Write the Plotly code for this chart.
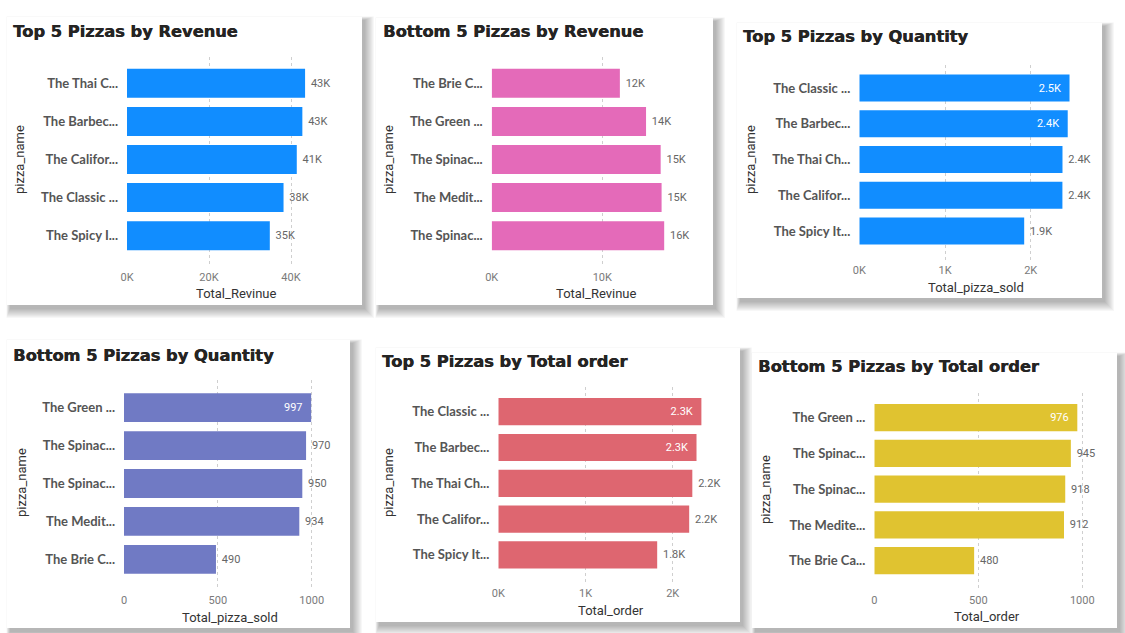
import plotly.graph_objects as go

W, H = 1125, 633

# ---------------- data ----------------
top_rev_names = ["The Thai Chicken Pizza", "The Barbecue Chicken Pizza", "The California Chicken Pizza",
                 "The Classic Deluxe Pizza", "The Spicy Italian Pizza"]
top_rev_labels = ["The Thai C...", "The Barbec...", "The Califor...", "The Classic ...", "The Spicy I..."]
top_rev_values = [43434, 42768, 41410, 38180, 34831]

bot_rev_names = ["The Brie Carre Pizza", "The Green Garden Pizza", "The Spinach Supreme Pizza",
                 "The Mediterranean Pizza", "The Spinach Pesto Pizza"]
bot_rev_labels = ["The Brie C...", "The Green ...", "The Spinac...", "The Medit...", "The Spinac..."]
bot_rev_values = [11589, 13956, 15278, 15361, 15596]

top_qty_names = ["The Classic Deluxe Pizza", "The Barbecue Chicken Pizza", "The Thai Chicken Pizza",
                 "The California Chicken Pizza", "The Spicy Italian Pizza"]
top_qty_labels = ["The Classic ...", "The Barbec...", "The Thai Ch...", "The Califor...", "The Spicy It..."]
top_qty_values = [2453, 2432, 2371, 2370, 1924]

bot_qty_names = ["The Green Garden Pizza", "The Spinach Pesto Pizza", "The Spinach Supreme Pizza",
                 "The Mediterranean Pizza", "The Brie Carre Pizza"]
bot_qty_labels = ["The Green ...", "The Spinac...", "The Spinac...", "The Medit...", "The Brie C..."]
bot_qty_values = [997, 970, 950, 934, 490]

top_ord_names = ["The Classic Deluxe Pizza", "The Barbecue Chicken Pizza", "The Thai Chicken Pizza",
                 "The California Chicken Pizza", "The Spicy Italian Pizza"]
top_ord_labels = ["The Classic ...", "The Barbec...", "The Thai Ch...", "The Califor...", "The Spicy It..."]
top_ord_values = [2329, 2273, 2225, 2189, 1822]

bot_ord_names = ["The Green Garden Pizza", "The Spinach Pesto Pizza", "The Spinach Supreme Pizza",
                 "The Mediterranean Pizza", "The Brie Carre Pizza"]
bot_ord_labels = ["The Green ...", "The Spinac...", "The Spinac...", "The Medite...", "The Brie Ca..."]
bot_ord_values = [976, 945, 918, 912, 480]

rev_ticks = [0, 20000, 40000]
rev_ticktext = ["0K", "20K", "40K"]
rev2_ticks = [0, 10000]
rev2_ticktext = ["0K", "10K"]
k_ticks = [0, 1000, 2000]
k_ticktext = ["0K", "1K", "2K"]
n_ticks = [0, 500, 1000]
n_ticktext = ["0", "500", "1000"]


def fmt_k0(v):
    return f"{v / 1000:.0f}K"


def fmt_k1(v):
    return f"{v / 1000:.1f}K"


def fmt_n(v):
    return f"{v:.0f}"


# ---------------- layout / style per panel (pixel geometry) ----------------
panels = [
    dict(title="Top 5 Pizzas by Revenue", names=top_rev_names, labels=top_rev_labels, values=top_rev_values,
         fmt=fmt_k0, tickvals=rev_ticks, ticktext=rev_ticktext, xtitle="Total_Revinue", color="#118DFF",
         inside=0, card=(7, 17, 362, 305), tpos=(12, 31.5), x0=127, ppu=82 / 20000, x1=332,
         c0=83.3, s=38.1, py=(57, 267), xt=(236.7, 293), yt=(19, 160)),
    dict(title="Bottom 5 Pizzas by Revenue", names=bot_rev_names, labels=bot_rev_labels, values=bot_rev_values,
         fmt=fmt_k0, tickvals=rev2_ticks, ticktext=rev2_ticktext, xtitle="Total_Revinue", color="#E46AB9",
         inside=0, card=(376, 18, 713, 305), tpos=(381.5, 31.5), x0=491.7, ppu=110.6 / 10000, x1=690,
         c0=83.3, s=38.1, py=(57, 267), xt=(596, 293), yt=(388, 160)),
    dict(title="Top 5 Pizzas by Quantity", names=top_qty_names, labels=top_qty_labels, values=top_qty_values,
         fmt=fmt_k1, tickvals=k_ticks, ticktext=k_ticktext, xtitle="Total_pizza_sold", color="#118DFF",
         inside=2, card=(737, 23, 1102, 298), tpos=(741.5, 36.5), x0=859.3, ppu=85.7 / 1000, x1=1075,
         c0=88, s=35.75, py=(65, 260), xt=(975.7, 287), yt=(750, 160)),
    dict(title="Bottom 5 Pizzas by Quantity", names=bot_qty_names, labels=bot_qty_labels, values=bot_qty_values,
         fmt=fmt_n, tickvals=n_ticks, ticktext=n_ticktext, xtitle="Total_pizza_sold", color="#707AC4",
         inside=1, card=(7, 340, 350, 628), tpos=(11.5, 355), x0=124, ppu=187.7 / 1000, x1=330,
         c0=407.7, s=37.9, py=(380, 590), xt=(230, 617), yt=(21, 483)),
    dict(title="Top 5 Pizzas by Total order", names=top_ord_names, labels=top_ord_labels, values=top_ord_values,
         fmt=fmt_k1, tickvals=k_ticks, ticktext=k_ticktext, xtitle="Total_order", color="#DE6670",
         inside=2, card=(376, 348, 740, 622), tpos=(381.5, 361.5), x0=498.3, ppu=87.2 / 1000, x1=712,
         c0=411.7, s=35.8, py=(387, 583), xt=(610.7, 610), yt=(388, 483)),
    dict(title="Bottom 5 Pizzas by Total order", names=bot_ord_names, labels=bot_ord_labels, values=bot_ord_values,
         fmt=fmt_n, tickvals=n_ticks, ticktext=n_ticktext, xtitle="Total_order", color="#E0C330",
         inside=1, card=(752, 353, 1117, 628), tpos=(756.5, 366.5), x0=874.3, ppu=208 / 1000, x1=1092,
         c0=417.7, s=35.75, py=(393, 590), xt=(987.3, 616.7), yt=(765, 490)),
]


def fx(x):
    return x / W


def fy(y):
    return 1 - y / H


TICK_FONT = dict(family="Roboto, Lato, sans-serif", size=11, color="#7a7a7a")
CAT_FONT = dict(family="Lato, sans-serif", size=13, color="#555555", weight="bold")
AX_TITLE_FONT = dict(family="Roboto, Lato, sans-serif", size=13, color="#333333")
TITLE_FONT = dict(family="DejaVu Sans, Liberation Sans, sans-serif", size=16.3, color="#252423", weight="bold",
                  shadow="0.5px 0px 0px #252423")

fig = go.Figure()
shapes = []
annotations = []
layout_axes = {}

for i, p in enumerate(panels):
    k = "" if i == 0 else str(i + 1)
    xa, ya = "x" + k, "y" + k

    positions = ["inside" if j < p["inside"] else "outside" for j in range(len(p["values"]))]
    texts = [p["fmt"](v) + ("\u2002" if j < p["inside"] else "") for j, v in enumerate(p["values"])]
    texts = [("\u2005" + t) if positions[j] == "outside" else t for j, t in enumerate(texts)]

    fig.add_trace(go.Bar(
        x=p["values"], y=p["names"], orientation="h", xaxis=xa, yaxis=ya,
        marker=dict(color=p["color"], line=dict(width=0)), width=0.76,
        text=texts, textposition=positions, constraintext="none", cliponaxis=False,
        insidetextanchor="end",
        insidetextfont=dict(family="Roboto, Lato, sans-serif", size=11, color="#ffffff"),
        outsidetextfont=dict(family="Roboto, Lato, sans-serif", size=11, color="#666666"),
        showlegend=False, hoverinfo="x+y",
    ))

    x0, x1 = p["x0"], p["x1"]
    xmax = (x1 - x0) / p["ppu"]
    py0, py1 = p["py"]
    idx_top = (py0 - p["c0"]) / p["s"]
    idx_bot = (py1 - p["c0"]) / p["s"]

    layout_axes["xaxis" + k] = dict(
        domain=[fx(x0), fx(x1)], anchor=ya, range=[0, xmax], automargin=False,
        tickvals=p["tickvals"], ticktext=p["ticktext"], tickfont=TICK_FONT,
        showgrid=True, gridcolor="#cfcfcf", griddash="dot", gridwidth=1,
        zeroline=False, showline=False, ticks="", ticklabelstandoff=2, fixedrange=True,
    )
    layout_axes["yaxis" + k] = dict(
        domain=[fy(py1), fy(py0)], anchor=xa, type="category", automargin=False,
        categoryorder="array", categoryarray=p["names"],
        range=[idx_bot, idx_top], tickvals=p["names"], ticktext=p["labels"],
        tickfont=CAT_FONT, showgrid=False, zeroline=False, showline=False, ticks="",
        ticklabelstandoff=8, fixedrange=True,
    )

    # card shadow + card
    cx0, cy0, cx1, cy1 = p["card"]
    for n in range(10):
        e = n * 1.0
        shapes.append(dict(type="rect", xref="paper", yref="paper", layer="below",
                           x0=fx(cx0 + 3 - e * 0.4), x1=fx(cx1 + 3 + e),
                           y0=fy(cy1 + 4 + e), y1=fy(cy0 + 3 - e * 0.4),
                           line=dict(width=0), fillcolor="rgba(0,0,0,0.03)"))
    shapes.append(dict(type="rect", xref="paper", yref="paper", layer="below",
                       x0=fx(cx0), x1=fx(cx1), y0=fy(cy1), y1=fy(cy0),
                       line=dict(width=0), fillcolor="#ffffff"))

    annotations.append(dict(text=p["title"], xref="paper", yref="paper", x=fx(p["tpos"][0]), y=fy(p["tpos"][1]),
                            xanchor="left", yanchor="middle", showarrow=False, font=TITLE_FONT,
                            borderpad=0))
    annotations.append(dict(text=p["xtitle"], xref="paper", yref="paper", x=fx(p["xt"][0]), y=fy(p["xt"][1]),
                            xanchor="center", yanchor="middle", showarrow=False, font=AX_TITLE_FONT))
    annotations.append(dict(text="pizza_name", xref="paper", yref="paper", x=fx(p["yt"][0]), y=fy(p["yt"][1]),
                            xanchor="center", yanchor="middle", textangle=-90, showarrow=False,
                            font=AX_TITLE_FONT))

fig.update_layout(
    width=W, height=H, margin=dict(l=0, r=0, t=0, b=0),
    paper_bgcolor="#ffffff", plot_bgcolor="rgba(0,0,0,0)",
    shapes=shapes, annotations=annotations, bargap=0.24,
    **layout_axes,
)

fig.write_html("out.html", config=dict(displayModeBar=False))
